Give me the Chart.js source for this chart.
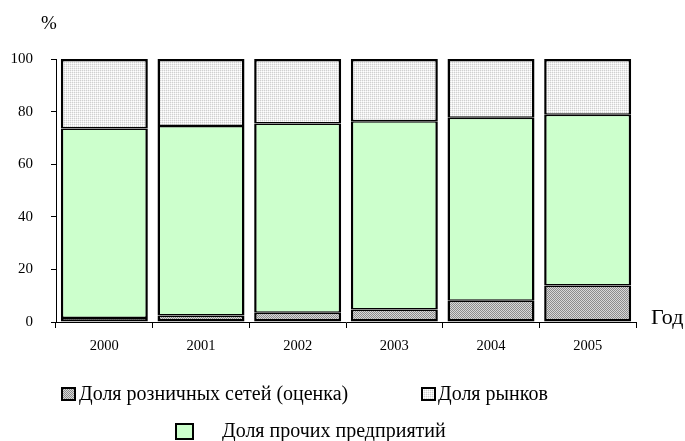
<!DOCTYPE html>
<html>
<head>
<meta charset="utf-8">
<script src="https://cdn.jsdelivr.net/npm/chart.js@4/dist/chart.umd.min.js"></script>
<style>
  html, body { margin: 0; padding: 0; background: #fff; }
  #wrap { width: 685px; height: 441px; position: relative; }
</style>
</head>
<body>
<div id="wrap"><canvas id="shareChart" width="685" height="441"></canvas></div>
<script>
// Data (percent)
const years = ["2000", "2001", "2002", "2003", "2004", "2005"];
const retailShare = [1.5, 2.5, 3.5, 4.8, 8.1, 13.9];
const otherShare = [72.1, 72.0, 72.0, 71.5, 69.6, 64.9];
const marketShare = [26.4, 25.5, 24.5, 23.7, 22.3, 21.2];
const yTicks = [0, 20, 40, 60, 80, 100];

const seriesNames = [
  "Доля розничных сетей (оценка)",
  "Доля прочих предприятий",
  "Доля рынков"
];

const FONT = "'Liberation Serif', 'Times New Roman', serif";

// small pixel patterns for the hatched fills
function makePattern(cells) {
  const size = cells.length;
  const c = document.createElement("canvas");
  c.width = size;
  c.height = size;
  const g = c.getContext("2d");
  for (let y = 0; y < size; y++) {
    for (let x = 0; x < size; x++) {
      g.fillStyle = cells[y][x];
      g.fillRect(x, y, 1, 1);
    }
  }
  return g.createPattern(c, "repeat");
}

const darkDots = makePattern([
  ["#8c8c8c", "#d8d8d8"],
  ["#d8d8d8", "#8c8c8c"]
]);
const lightDots = makePattern([
  ["#d0d0d0", "#eeeeee"],
  ["#eeeeee", "#ffffff"]
]);
const green = "#ccffcc";

// extra labels: "%" over the y axis, "Год" at the end of the x axis, legend
const extrasPlugin = {
  id: "extras",
  afterDraw(chart) {
    const ctx = chart.ctx;
    ctx.save();
    ctx.fillStyle = "#000";
    ctx.textBaseline = "middle";

    ctx.font = "19px " + FONT;
    ctx.textAlign = "left";
    ctx.fillText("%", 41, 24);

    ctx.font = "22px " + FONT;
    ctx.fillText("Год", 651, 318);

    const items = [
      { box: [62, 388, 13, 12], text: seriesNames[0], tx: 79, ty: 395, fill: darkDots },
      { box: [422, 388, 13, 12], text: seriesNames[2], tx: 438, ty: 395, fill: lightDots },
      { box: [176, 424, 17, 15], text: seriesNames[1], tx: 222, ty: 432, fill: green }
    ];
    ctx.font = "20px " + FONT;
    items.forEach((it) => {
      const [x, y, w, h] = it.box;
      ctx.fillStyle = it.fill;
      ctx.fillRect(x, y, w, h);
      ctx.lineWidth = 2;
      ctx.strokeStyle = "#000";
      ctx.strokeRect(x, y, w, h);
      ctx.fillStyle = "#000";
      ctx.fillText(it.text, it.tx, it.ty);
    });
    ctx.restore();
  }
};

const ctx = document.getElementById("shareChart").getContext("2d");

const common = {
  borderColor: "#000",
  borderSkipped: false,
  barPercentage: 0.9,
  categoryPercentage: 1.0
};

new Chart(ctx, {
  type: "bar",
  data: {
    labels: years,
    datasets: [
      Object.assign({
        label: seriesNames[0], data: retailShare, backgroundColor: darkDots,
        borderWidth: { top: 1.5, bottom: 2.5, left: 2.5, right: 2.5 }
      }, common),
      Object.assign({
        label: seriesNames[1], data: otherShare, backgroundColor: green,
        borderWidth: { top: 1.5, bottom: 1.5, left: 2.5, right: 2.5 }
      }, common),
      Object.assign({
        label: seriesNames[2], data: marketShare, backgroundColor: lightDots,
        borderWidth: { top: 2.5, bottom: 1.5, left: 2.5, right: 2.5 }
      }, common)
    ]
  },
  options: {
    responsive: false,
    animation: false,
    layout: { padding: { top: 59, right: 49, bottom: 0, left: 0 } },
    plugins: {
      legend: { display: false },
      tooltip: { enabled: false }
    },
    scales: {
      x: {
        stacked: true,
        grid: {
          drawOnChartArea: false,
          drawTicks: true,
          tickLength: 6,
          color: "#000",
          offset: true
        },
        border: { color: "#000", width: 1 },
        ticks: {
          color: "#000",
          font: { family: FONT, size: 14.5 },
          padding: 9,
          maxRotation: 0
        },
        afterFit(scale) { scale.height = 119; }
      },
      y: {
        stacked: true,
        min: 0,
        max: 100,
        afterBuildTicks(scale) {
          scale.ticks = yTicks.map((v) => ({ value: v }));
        },
        grid: {
          drawOnChartArea: false,
          drawTicks: true,
          tickLength: 5,
          color: "#000"
        },
        border: { color: "#000", width: 1 },
        ticks: {
          color: "#000",
          font: { family: FONT, size: 15 },
          padding: 18
        },
        afterFit(scale) { scale.width = 56; }
      }
    }
  },
  plugins: [extrasPlugin]
});
</script>
</body>
</html>
